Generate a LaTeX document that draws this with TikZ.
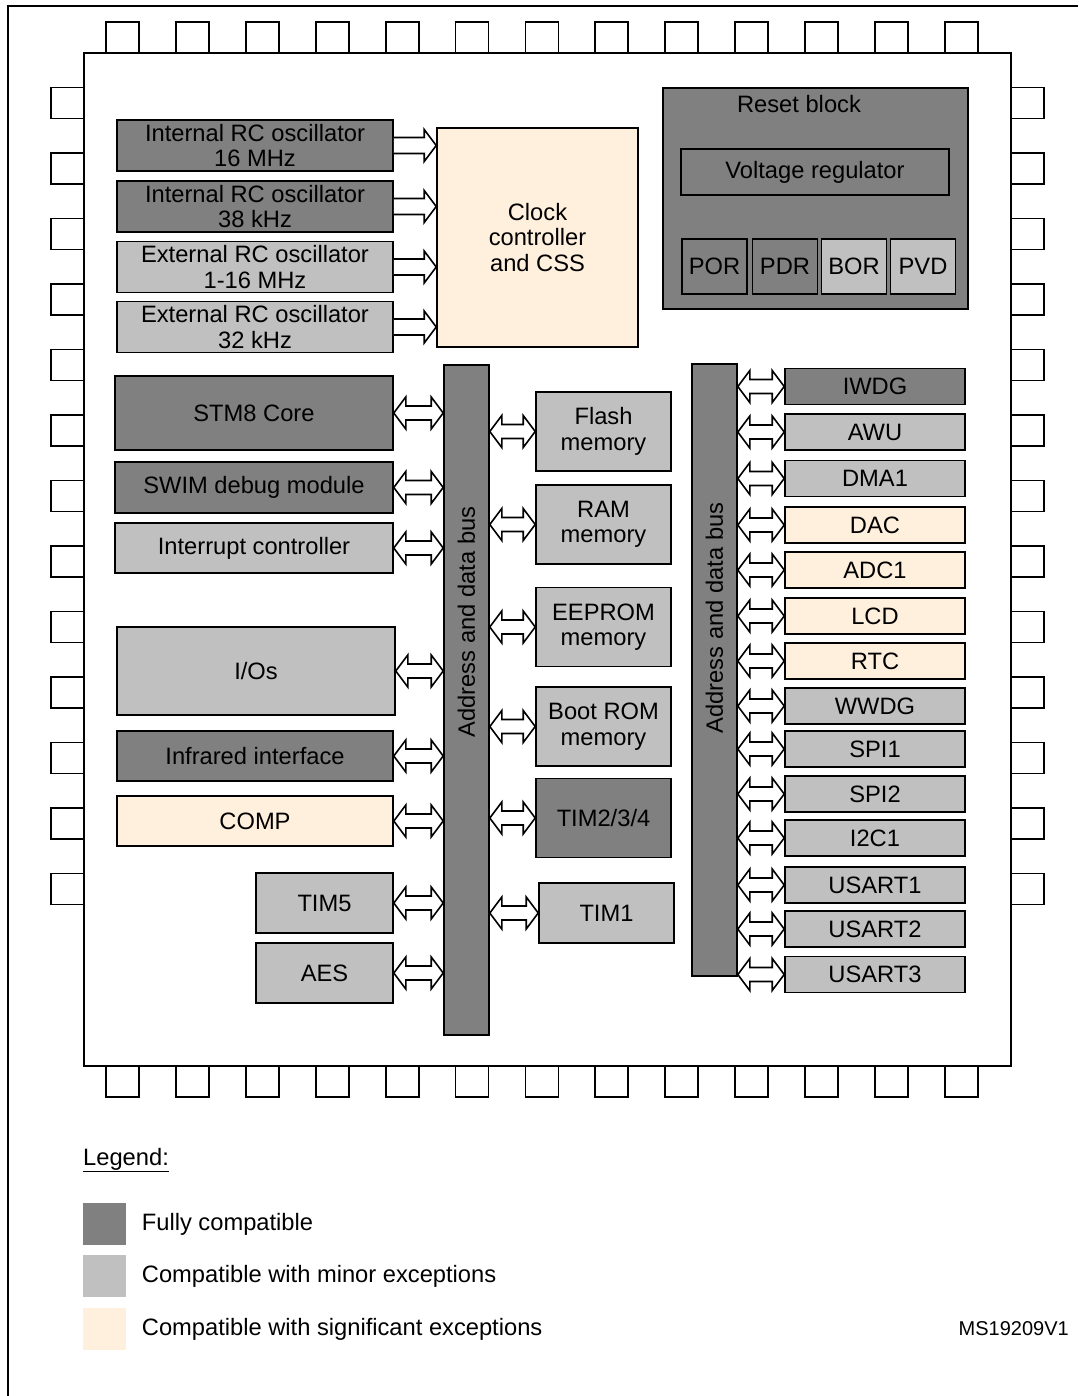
\documentclass[tikz,border=0pt]{standalone}
\usepackage{fontspec}
\setmainfont{Liberation Sans}
\usetikzlibrary{positioning,calc}
\definecolor{fullGray}{HTML}{808080}
\definecolor{minorGray}{HTML}{C0C0C0}
\definecolor{sigPeach}{HTML}{FFF0DE}

\newcommand{\clkarrow}[2]{%
  \filldraw[line width=1.6pt, fill=white] let \p1=(#1), \p2=(#2) in
    (\x1,\y1+8pt) -- (\x2-12pt,\y1+8pt) -- (\x2-12pt,\y1+16pt) -- (\x2,\y1)
    -- (\x2-12pt,\y1-16pt) -- (\x2-12pt,\y1-8pt) -- (\x1,\y1-8pt);}
\newcommand{\busarrow}[2]{%
  \filldraw[line width=1.6pt, fill=white] let \p1=(#1), \p2=(#2) in
    (\x1,\y1) -- (\x1+12pt,\y1+16pt) -- (\x1+12pt,\y1+7pt) -- (\x2-12pt,\y1+7pt)
    -- (\x2-12pt,\y1+16pt) -- (\x2,\y1) -- (\x2-12pt,\y1-16pt) -- (\x2-12pt,\y1-7pt)
    -- (\x1+12pt,\y1-7pt) -- (\x1+12pt,\y1-16pt) -- cycle;}

\begin{document}
\begin{tikzpicture}[
    x=1pt, y=-1pt,
    txt/.style={inner sep=0pt, font=\fontsize{23.7}{25.5}\selectfont},
    blk/.style={txt, draw, line width=1.6pt, align=center},
    full/.style={blk, fill=fullGray},
    minor/.style={blk, fill=minorGray},
    sig/.style={blk, fill=sigPeach},
    pin/.style={draw, line width=1.8pt, fill=white},
    osc/.style={minimum width=276pt, minimum height=51pt},
    mem/.style={minimum width=135pt, minimum height=79pt},
    periph/.style={minimum width=180pt, minimum height=36pt},
    rst/.style={minimum width=65pt, minimum height=55pt},
    key/.style={minimum width=43pt, minimum height=42pt, inner sep=0pt}
  ]
  \useasboundingbox (0,0) rectangle (1078,1396);
  \draw[line width=2pt] (8,1396) -- (8,6) -- (1078,6);

  \foreach \i in {0,...,12} {
    \draw[pin] ({106+69.9*\i},22) rectangle ++(33,31);
    \draw[pin] ({106+69.9*\i},1066) rectangle ++(33,31);
    \draw[pin] (51,{87.5+65.5*\i}) rectangle ++(33,31);
    \draw[pin] (1011,{87.5+65.5*\i}) rectangle ++(33,31);
  }
  \node[draw, line width=2.2pt, fill=white, minimum width=927pt, minimum height=1013pt] (chip) at (547.5,559.5) {};

  \node[full, osc]  (o1) at (255,145.5) {Internal RC oscillator\\16 MHz};
  \node[full, osc]  (o2) at (255,206.5) {Internal RC oscillator\\38 kHz};
  \node[minor, osc] (o3) at (255,267)   {External RC oscillator\\1-16 MHz};
  \node[minor, osc] (o4) at (255,327)   {External RC oscillator\\32 kHz};
  \node[sig, minimum width=201pt, minimum height=219pt] (clk) at (537.5,237.5) {Clock\\controller\\and CSS};

  \node[full, minimum width=305pt, minimum height=221pt] (reset) at (815.5,198.5) {};
  \node[txt] (resetT) at (799,104) {Reset block};
  \node[full, minimum width=268pt, minimum height=46pt] (vreg) at (815,172) {Voltage regulator};
  \node[full, rst]  (por) at (714.5,266.5) {POR};
  \node[full, rst]  (pdr) at (785,266.5)   {PDR};
  \node[minor, rst] (bor) at (854,266.5)   {BOR};
  \node[minor, rst] (pvd) at (923,266.5)   {PVD};

  \node[full, minimum width=278pt, minimum height=74pt]  (core) at (254,413)   {STM8 Core};
  \node[full, minimum width=278pt, minimum height=51pt]  (swim) at (254,487.5) {SWIM debug module};
  \node[minor, minimum width=278pt, minimum height=50pt] (irq)  at (254,548)   {Interrupt controller};
  \node[minor, minimum width=278pt, minimum height=88pt] (ios)  at (256,671)   {I/Os};
  \node[full, minimum width=276pt, minimum height=50pt]  (irda) at (255,756)   {Infrared interface};
  \node[sig, minimum width=276pt, minimum height=50pt]   (comp) at (255,821)   {COMP};
  \node[minor, minimum width=137pt, minimum height=60pt] (tim5) at (324.5,903) {TIM5};
  \node[minor, minimum width=137pt, minimum height=60pt] (aes)  at (324.5,973) {AES};

  \node[full, minimum width=45pt, minimum height=670pt] (lbus) at (466.5,700) {};
  \node[txt, rotate=90] (lbusT) at (466.5,622) {Address and data bus};
  \node[full, minimum width=45pt, minimum height=612pt] (rbus) at (714.5,670) {};
  \node[txt, rotate=90] (rbusT) at (714.5,618) {Address and data bus};

  \node[minor, mem] (flash)  at (603.5,431.5) {Flash\\memory};
  \node[minor, mem] (ram)    at (603.5,524.5) {RAM\\memory};
  \node[minor, mem] (eeprom) at (603.5,627)   {EEPROM\\memory};
  \node[minor, mem] (boot)   at (603.5,726.5) {Boot ROM\\memory};
  \node[full, mem]  (tim234) at (603.5,818)   {TIM2/3/4};
  \node[minor, minimum width=135pt, minimum height=60pt] (tim1) at (606.5,913) {TIM1};

  \node[full, periph]  (iwdg)   at (875,386.5) {IWDG};
  \node[minor, periph] (awu)    at (875,432)   {AWU};
  \node[minor, periph] (dma)    at (875,478.5) {DMA1};
  \node[sig, periph]   (dac)    at (875,525)   {DAC};
  \node[sig, periph]   (adc)    at (875,570)   {ADC1};
  \node[sig, periph]   (lcd)    at (875,616)   {LCD};
  \node[sig, periph]   (rtc)    at (875,661)   {RTC};
  \node[minor, periph] (wwdg)   at (875,706)   {WWDG};
  \node[minor, periph] (spi1)   at (875,749)   {SPI1};
  \node[minor, periph] (spi2)   at (875,794)   {SPI2};
  \node[minor, periph] (i2c)    at (875,838)   {I2C1};
  \node[minor, periph] (usart1) at (875,885)   {USART1};
  \node[minor, periph] (usart2) at (875,929)   {USART2};
  \node[minor, periph] (usart3) at (875,974.5) {USART3};

  \foreach \o in {o1,o2,o3,o4}
    \clkarrow{\o.east}{clk.west |- \o.east};
  \foreach \b in {core,swim,irq,ios,irda,comp,tim5,aes}
    \busarrow{\b.east}{lbus.west |- \b.east};
  \foreach \b in {flash,ram,eeprom,boot,tim234,tim1}
    \busarrow{lbus.east |- \b.west}{\b.west};
  \foreach \b in {iwdg,awu,dma,dac,adc,lcd,rtc,wwdg,spi1,spi2,i2c,usart1,usart2,usart3}
    \busarrow{rbus.east |- \b.west}{\b.west};

  \node[txt, anchor=west] (legT) at (83,1160) {\underline{Legend:}};
  \node[key, fill=fullGray]  (k1) at (104,1224) {};
  \node[key, fill=minorGray] (k2) at (104,1276) {};
  \node[key, fill=sigPeach]  (k3) at (104,1329) {};
  \node[txt, right=16pt of k1] (k1T) {Fully compatible};
  \node[txt, right=16pt of k2] (k2T) {Compatible with minor exceptions};
  \node[txt, right=16pt of k3] (k3T) {Compatible with significant exceptions};
  \node[txt, anchor=east, font=\fontsize{20}{22}\selectfont] (ref) at (1069,1329) {MS19209V1};
\end{tikzpicture}
\end{document}
